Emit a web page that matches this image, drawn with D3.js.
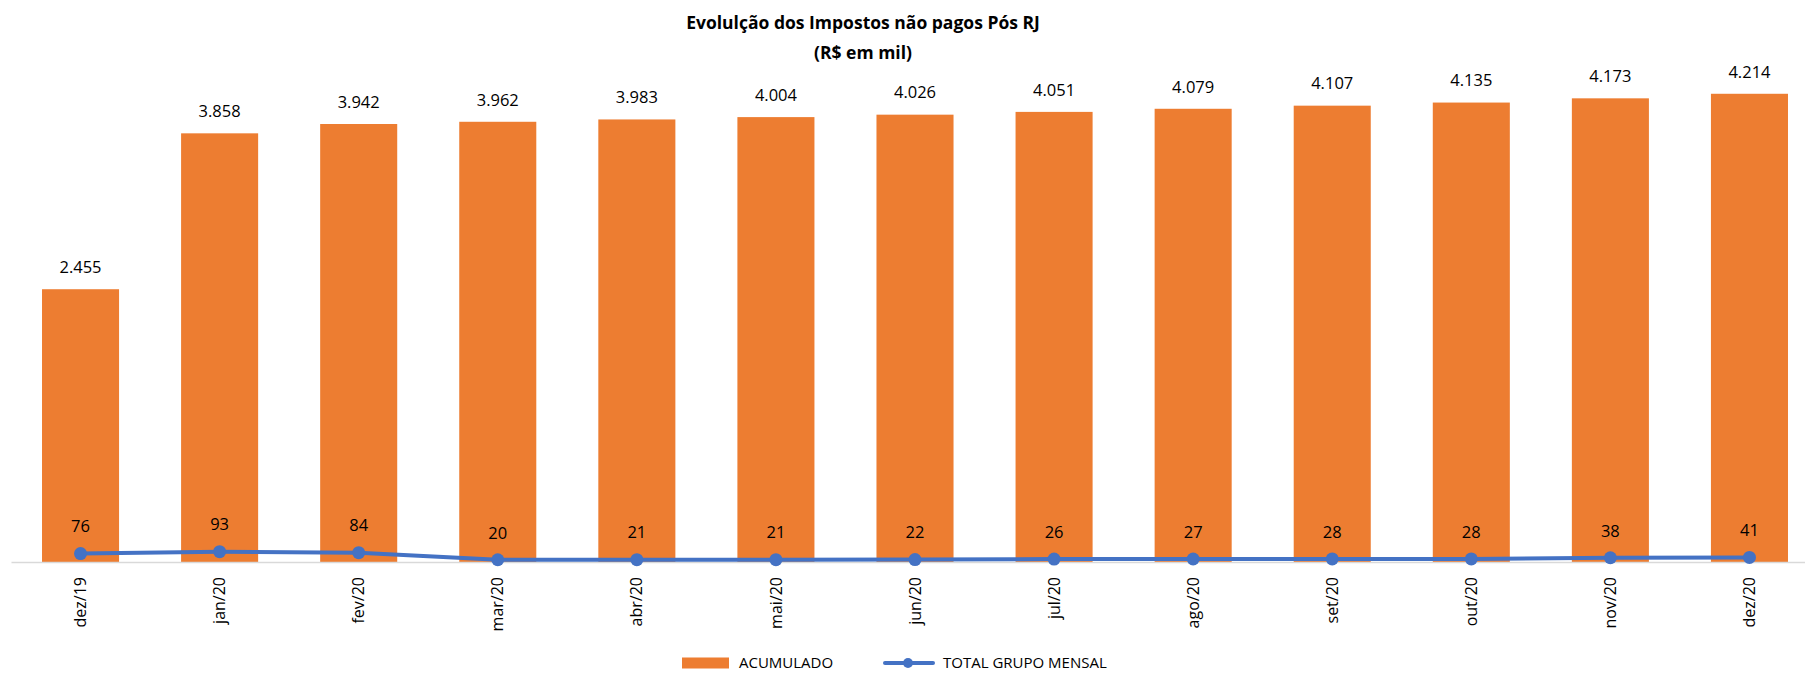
<!DOCTYPE html>
<html><head><meta charset="utf-8">
<script src="https://cdn.jsdelivr.net/npm/d3@7"></script>
<style>body{margin:0;background:#fff}svg{display:block;font-family:"Open Sans",sans-serif}</style>
</head><body><svg id="c" width="1805" height="673"></svg>
<script>
const categories = ["dez/19","jan/20","fev/20","mar/20","abr/20","mai/20","jun/20","jul/20","ago/20","set/20","out/20","nov/20","dez/20"];
const acumulado = [2455,3858,3942,3962,3983,4004,4026,4051,4079,4107,4135,4173,4214];
const mensal = [76,93,84,20,21,21,22,26,27,28,28,38,41];
const seriesNames = ["ACUMULADO","TOTAL GRUPO MENSAL"];
const titleLines = ["Evolulção dos Impostos não pagos Pós RJ","(R$ em mil)"];

const svg = d3.select("#c");
const orange = "#ED7D31", blue = "#4472C4";
const loc = d3.formatLocale({decimal:",",thousands:".",grouping:[3],currency:["R$",""]});
const fmt = loc.format(",d");

const x = d3.scaleBand().domain(categories).range([11, 1819]).paddingInner(0.446).paddingOuter(0.223);
const y = d3.scaleLinear().domain([0, 4500]).range([562, 62]);

// title
svg.append("g").selectAll("text").data(titleLines).join("text")
  .attr("x", 863).attr("y", (d,i)=>23+i*30).attr("dy","0.35em")
  .attr("text-anchor","middle").attr("font-weight","bold").attr("font-size",17.5)
  .attr("fill","#000").text(d=>d);

// bars
svg.append("g").selectAll("rect").data(acumulado).join("rect")
  .attr("x",(d,i)=>x(categories[i])).attr("width",x.bandwidth())
  .attr("y",d=>y(d)).attr("height",d=>y(0)-y(d)).attr("fill",orange);

// axis
const ax = svg.append("g").attr("transform",`translate(0,${y(0)})`)
  .call(d3.axisBottom(x).tickSize(0).tickPadding(0));
ax.select(".domain").attr("stroke","#d9d9d9").attr("stroke-width",1.5);
ax.selectAll(".tick text").attr("font-size",16).attr("fill","#000")
  .attr("font-family","'Open Sans',sans-serif")
  .attr("transform","rotate(-90)").attr("text-anchor","end")
  .attr("x",-15).attr("y",0).attr("dy","0.35em");

// bar labels
svg.append("g").selectAll("text").data(acumulado).join("text")
  .attr("x",(d,i)=>x(categories[i])+x.bandwidth()/2).attr("y",d=>y(d)-22)
  .attr("dy","0.35em").attr("text-anchor","middle").attr("font-size",16.5).attr("fill","#000")
  .text(d=>fmt(d));

// line
const cx = (d,i)=>x(categories[i])+x.bandwidth()/2;
svg.append("path").datum(mensal)
  .attr("d", d3.line().x(cx).y(d=>y(d)))
  .attr("fill","none").attr("stroke",blue).attr("stroke-width",4).attr("stroke-linejoin","round");
svg.append("g").selectAll("circle").data(mensal).join("circle")
  .attr("cx",cx).attr("cy",d=>y(d)).attr("r",6.5).attr("fill",blue);
svg.append("g").selectAll("text").data(mensal).join("text")
  .attr("x",cx).attr("y",d=>y(d)-27).attr("dy","0.35em")
  .attr("text-anchor","middle").attr("font-size",16.5).attr("fill","#000").text(d=>fmt(d));

// legend
const ly = 663;
const lg = svg.append("g");
lg.append("rect").attr("x",682).attr("y",ly-5.5).attr("width",47).attr("height",11).attr("fill",orange);
lg.append("text").attr("x",739).attr("y",ly).attr("dy","0.35em").attr("font-size",15).attr("fill","#000").text(seriesNames[0]);
lg.append("line").attr("x1",885).attr("x2",933).attr("y1",ly).attr("y2",ly)
  .attr("stroke",blue).attr("stroke-width",4).attr("stroke-linecap","round");
lg.append("circle").attr("cx",908).attr("cy",ly).attr("r",5).attr("fill",blue);
lg.append("text").attr("x",943).attr("y",ly).attr("dy","0.35em").attr("font-size",15).attr("fill","#000").text(seriesNames[1]);
</script></body></html>
